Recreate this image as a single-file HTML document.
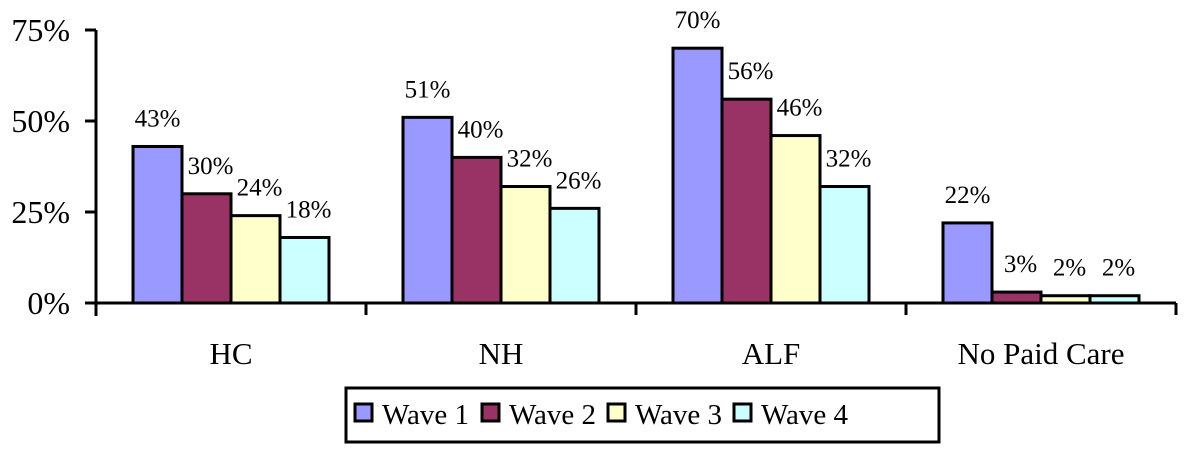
<!DOCTYPE html>
<html><head><meta charset="utf-8"><style>
body{margin:0;background:#fff;}
svg{display:block;font-family:"Liberation Serif",serif;}
</style></head><body>
<svg id="chart" width="1186" height="455" viewBox="0 0 1186 455"></svg>
<script>
const categories=["HC","NH","ALF","No Paid Care"];
const wave1=[43,51,70,22];
const wave2=[30,40,56,3];
const wave3=[24,32,46,2];
const wave4=[18,26,32,2];
const seriesNames=["Wave 1","Wave 2","Wave 3","Wave 4"];
const yTicks=[0,25,50,75];
const colors=["#9999ff","#993366","#ffffcc","#ccffff"];
const series=[wave1,wave2,wave3,wave4];
const svg=document.getElementById('chart');
const NS='http://www.w3.org/2000/svg';
function mk(t,a,p){const e=document.createElementNS(NS,t);for(const k in a)e.setAttribute(k,a[k]);(p||svg).appendChild(e);return e;}
const x0=96,xEnd=1176,y0=303,yTop=30;
const groupW=(xEnd-x0)/categories.length;
const barW=49;
function y(v){return y0-(v/75)*(y0-yTop);}
function xb(ci,si){return x0+ci*groupW+37+si*barW;}
series.forEach((s,si)=>{s.forEach((v,ci)=>{
  const r=mk('rect',{x:xb(ci,si),y:y(v),width:barW,height:y0-y(v),fill:colors[si],stroke:'#000','stroke-width':3});
  
  
  const t=mk('text',{x:xb(ci,si)+barW/2+(si>0?4:0),y:y(v)-20,'text-anchor':'middle','font-size':25});
  t.textContent=v+'%';
  
  
});});
const ya=mk('line',{x1:x0,y1:yTop,x2:x0,y2:316,stroke:'#000','stroke-width':3});


const xa=mk('line',{x1:85,y1:y0,x2:xEnd,y2:y0,stroke:'#000','stroke-width':3});


yTicks.forEach(v=>{
  mk('line',{x1:85,y1:y(v),x2:x0,y2:y(v),stroke:'#000','stroke-width':3});
  const t=mk('text',{x:70,y:y(v)+11,'text-anchor':'end','font-size':32});
  t.textContent=v+'%';
  
  
});
categories.forEach((c,ci)=>{
  mk('line',{x1:x0+(ci+1)*groupW,y1:y0,x2:x0+(ci+1)*groupW,y2:315,stroke:'#000','stroke-width':3});
  const t=mk('text',{x:x0+ci*groupW+groupW/2,y:364,'text-anchor':'middle','font-size':31});
  t.textContent=c;
  
  
});
const lg=mk('g',{});


mk('rect',{x:346,y:388,width:593,height:54,fill:'#fff',stroke:'#000','stroke-width':3},lg);
const lx=[354,481,607,733];
seriesNames.forEach((n,i)=>{
  const g=mk('g',{},lg);
  
  
  mk('rect',{x:lx[i]+1,y:404,width:17,height:17,fill:colors[i],stroke:'#000','stroke-width':3},g);
  const t=mk('text',{x:lx[i]+28,y:424,'font-size':29},g);
  t.textContent=n;
});
</script>
</body></html>
